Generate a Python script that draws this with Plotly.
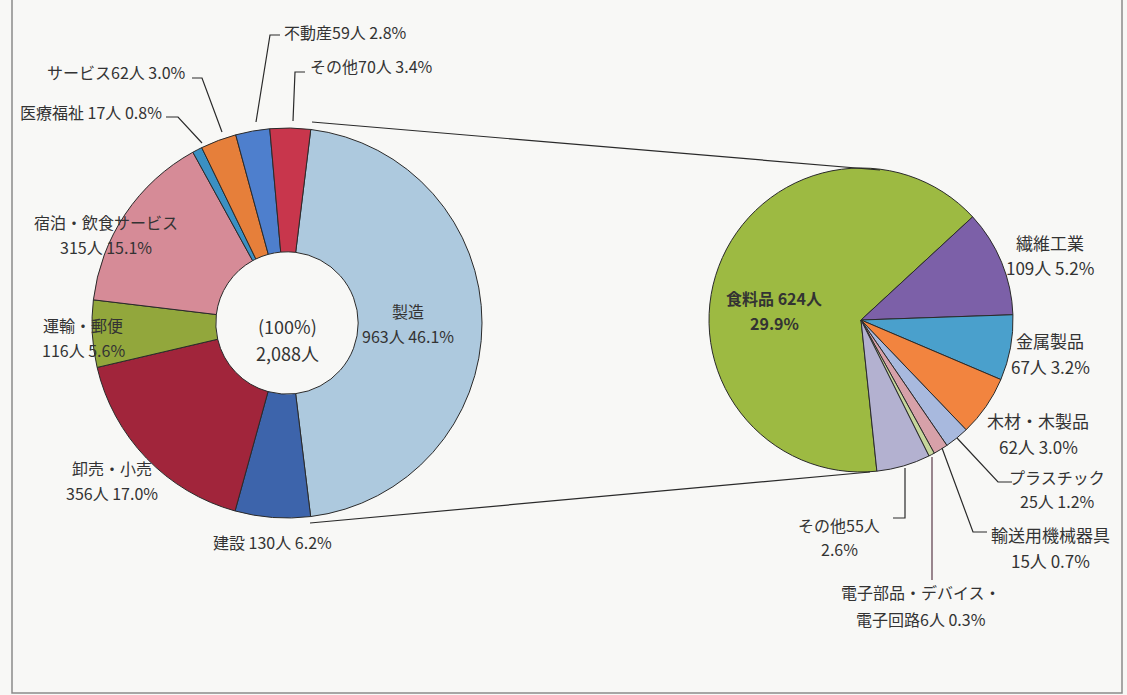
import plotly.graph_objects as go

W, H = 1127, 695

# ---- data ----
ind_labels = ["製造", "建設", "卸売・小売", "運輸・郵便", "宿泊・飲食サービス",
              "医療福祉", "サービス", "不動産", "その他"]
ind_values = [963, 130, 356, 116, 315, 17, 62, 59, 70]
ind_pcts = ["46.1%", "6.2%", "17.0%", "5.6%", "15.1%", "0.8%", "3.0%", "2.8%", "3.4%"]
ind_colors = ["#adc9de", "#3d64ab", "#a1253b", "#92a73c", "#d68b97",
              "#3b90c3", "#e67f3a", "#4e7fcd", "#c8364c"]

mfg_labels = ["食料品", "繊維工業", "金属製品", "木材・木製品", "プラスチック",
              "輸送用機械器具", "電子部品・デバイス・電子回路", "その他"]
mfg_values = [624, 109, 67, 62, 25, 15, 6, 55]
mfg_pcts = ["29.9%", "5.2%", "3.2%", "3.0%", "1.2%", "0.7%", "0.3%", "2.6%"]
mfg_colors = ["#9dba42", "#7c60a8", "#4aa0cc", "#f2843f", "#a8b9de",
              "#d7a1a9", "#c6d69c", "#b3b1d0"]

total_label = "2,088人"


def px(x):
    return x / W


def py(y):
    return 1 - y / H


fig = go.Figure()

fig.add_trace(go.Pie(
    labels=ind_labels, values=ind_values, sort=False, direction="clockwise",
    rotation=7, hole=0.365, textinfo="none", hoverinfo="label+value+percent",
    marker=dict(colors=ind_colors, line=dict(color="#2a2a2a", width=1)),
    domain=dict(x=[px(92), px(482)], y=[py(520), py(126)]),
    showlegend=False,
))

fig.add_trace(go.Pie(
    labels=mfg_labels, values=mfg_values, sort=False, direction="clockwise",
    rotation=174, textinfo="none", hoverinfo="label+value",
    marker=dict(colors=mfg_colors, line=dict(color="#2a2a2a", width=1)),
    domain=dict(x=[px(709), px(1013)], y=[py(472), py(168)]),
    showlegend=False,
))

FONT = "Noto Sans CJK JP, Noto Sans, sans-serif"
TC = "#333333"
annotations = []


def ann(text, x, y, xanchor="center", size=16):
    annotations.append(dict(
        text=text, x=px(x), y=py(y), xref="paper", yref="paper",
        xanchor=xanchor, yanchor="middle", showarrow=False,
        font=dict(family=FONT, size=size, color=TC), align="center"))


def ann2(line1, line2, x, y1, y2, size=16):
    ann(line1, x, y1, size=size)
    ann(line2, x, y2, size=size)


# left donut labels
ann(f"{ind_labels[7]}{ind_values[7]}人 {ind_pcts[7]}", 282, 32, "left")
ann(f"{ind_labels[8]}{ind_values[8]}人 {ind_pcts[8]}", 308, 66, "left")
ann(f"{ind_labels[6]}{ind_values[6]}人 {ind_pcts[6]}", 188, 72, "right")
ann(f"{ind_labels[5]} {ind_values[5]}人 {ind_pcts[5]}", 164, 112, "right")
ann2(ind_labels[4], f"{ind_values[4]}人 {ind_pcts[4]}", 106, 222, 247)
ann2(ind_labels[3], f"{ind_values[3]}人 {ind_pcts[3]}", 83, 325, 350)
ann2(ind_labels[2], f"{ind_values[2]}人 {ind_pcts[2]}", 112, 468, 493)
ann(f"{ind_labels[1]} {ind_values[1]}人 {ind_pcts[1]}", 272, 542)
ann2(ind_labels[0], f"{ind_values[0]}人 {ind_pcts[0]}", 408, 311, 336)
ann("(100%)", 287, 326, size=18)
ann(total_label, 287, 353, size=18)

# right pie labels
ann2(f"<b>{mfg_labels[0]} {mfg_values[0]}人</b>", f"<b>{mfg_pcts[0]}</b>", 774, 298, 323)
ann2(mfg_labels[1], f"{mfg_values[1]}人 {mfg_pcts[1]}", 1050, 242, 267, size=17)
ann2(mfg_labels[2], f"{mfg_values[2]}人 {mfg_pcts[2]}", 1050, 340, 366, size=17)
ann2(mfg_labels[3], f"{mfg_values[3]}人 {mfg_pcts[3]}", 1038, 420, 446, size=17)
ann2(mfg_labels[4], f"{mfg_values[4]}人 {mfg_pcts[4]}", 1057, 477, 501)
ann2(mfg_labels[5], f"{mfg_values[5]}人 {mfg_pcts[5]}", 1050, 534, 560, size=17)
ann2("電子部品・デバイス・", f"電子回路{mfg_values[6]}人 {mfg_pcts[6]}", 921, 592, 619)
ann2(f"{mfg_labels[7]}{mfg_values[7]}人", mfg_pcts[7], 839, 525, 549)

shapes = []


def poly(points, color="#2a2a2a", width=1.2):
    d = "M " + " L ".join(f"{px(x)},{py(y)}" for x, y in points)
    shapes.append(dict(type="path", path=d, xref="paper", yref="paper",
                       line=dict(color=color, width=width)))


# leader lines, left
poly([(256, 122), (270, 35), (280, 35)])
poly([(293, 121), (295, 72), (305, 72)])
poly([(192, 78), (202, 78), (222, 132)])
poly([(166, 117), (178, 117), (202, 143)])
# leader lines, right
poly([(957, 438), (998, 482), (1012, 482)])
poly([(942, 448), (973, 532), (987, 532)])
poly([(932, 457), (932, 580)], color="#5a3a48")
poly([(905, 468), (905, 518), (893, 518)])
# connector lines
poly([(312, 122), (880, 170)])
poly([(310, 523), (870, 472)])

# frame
shapes.append(dict(type="rect", xref="paper", yref="paper",
                   x0=px(12), x1=px(1122), y0=py(693), y1=py(-5),
                   line=dict(color="#8a8a8a", width=1.5)))

fig.update_layout(
    width=W, height=H, margin=dict(l=0, r=0, t=0, b=0),
    paper_bgcolor="#f8f8f6", plot_bgcolor="#f8f8f6",
    annotations=annotations, shapes=shapes,
    font=dict(family=FONT, color=TC),
)

fig.write_html("out.html", config={"displayModeBar": False},
               post_script="document.body.style.margin='0';document.body.style.overflow='hidden';")
